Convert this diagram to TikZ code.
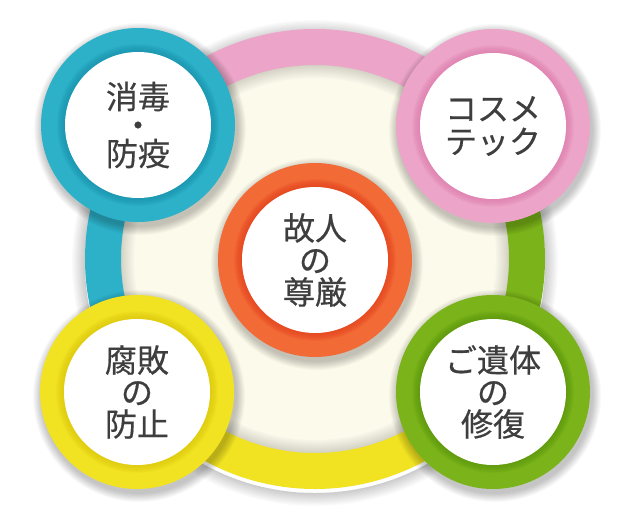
\documentclass[tikz,border=0pt]{standalone}
\usepackage{fontspec}
\newfontfamily\jp[FakeBold=0.5]{Noto Sans CJK JP}
\usetikzlibrary{calc}
\definecolor{tealC}{HTML}{2CB1C9}
\definecolor{tealD}{HTML}{1A92AC}
\definecolor{pinkC}{HTML}{ECA5C8}
\definecolor{pinkD}{HTML}{DE7CAE}
\definecolor{greenC}{HTML}{7BB41A}
\definecolor{greenD}{HTML}{5A960C}
\definecolor{yellowC}{HTML}{F1E322}
\definecolor{yellowD}{HTML}{DCC80E}
\definecolor{orangeC}{HTML}{F26B37}
\definecolor{orangeD}{HTML}{E4401C}
\definecolor{cream}{HTML}{FCFAEB}
\definecolor{txtgray}{HTML}{3E3E3E}
\tikzset{
  lbl/.style={text=txtgray, align=center, inner sep=0pt},
  band/.style={line width=36pt},
}
\newcommand{\bubble}[6]{%
  \foreach \k in {1,...,10} \fill[black,opacity=0.024] ($(#2)+(2,4)$) circle ({97+\k*0.9});
  \fill[#3] (#2) circle (97);
  \foreach \k in {1,...,8} \draw[#4,opacity=0.14,line width=\k pt] (#2) circle ({73+\k*0.5});
  \fill[white] (#2) circle (73);
  \node[lbl, font=\jp\fontsize{32}{#6}\selectfont] (#1) at (#2) {#5};
}
\begin{document}
\begin{tikzpicture}[x=1pt,y=-1pt]
\useasboundingbox (0,0) rectangle (630,520);
\fill[white] (0,0) rectangle (630,520);
\coordinate (O) at (315,259);
\coordinate (pTL) at (138,125);
\coordinate (pTR) at (493,126);
\coordinate (pBL) at (137,392);
\coordinate (pBR) at (493,392);
\coordinate (pC) at (315,260);
% ring shadow outside
\foreach \k in {1,...,10} \draw[black,opacity=0.018,line width=\k*1.3pt] ($(O)+(0,4)$) circle ({230+\k*0.65});
% cream inside
\fill[cream] (O) circle (195);
\foreach \k in {1,...,10} \draw[black!70!cream,opacity=0.025,line width=\k*1.4pt] (O) circle ({195-\k*0.7});
% ring bands
\draw[band,pinkC] ($(O)+(-143:212)$) arc[start angle=-143,end angle=-37,radius=212];
\draw[band,greenC] ($(O)+(-37:212)$) arc[start angle=-37,end angle=37,radius=212];
\draw[band,yellowC] ($(O)+(37:212)$) arc[start angle=37,end angle=143,radius=212];
\draw[band,tealC] ($(O)+(143:212)$) arc[start angle=143,end angle=217,radius=212];
% bubbles
\bubble{tl}{pTL}{tealC}{tealD}{消毒\\・\\防疫}{28.5}
\bubble{tr}{pTR}{pinkC}{pinkD}{コスメ\\テック}{33}
\bubble{bl}{pBL}{yellowC}{yellowD}{腐敗\\の\\防止}{32}
\bubble{br}{pBR}{greenC}{greenD}{ご遺体\\の\\修復}{32}
\bubble{c}{pC}{orangeC}{orangeD}{故人\\の\\尊厳}{32}
\end{tikzpicture}
\end{document}
